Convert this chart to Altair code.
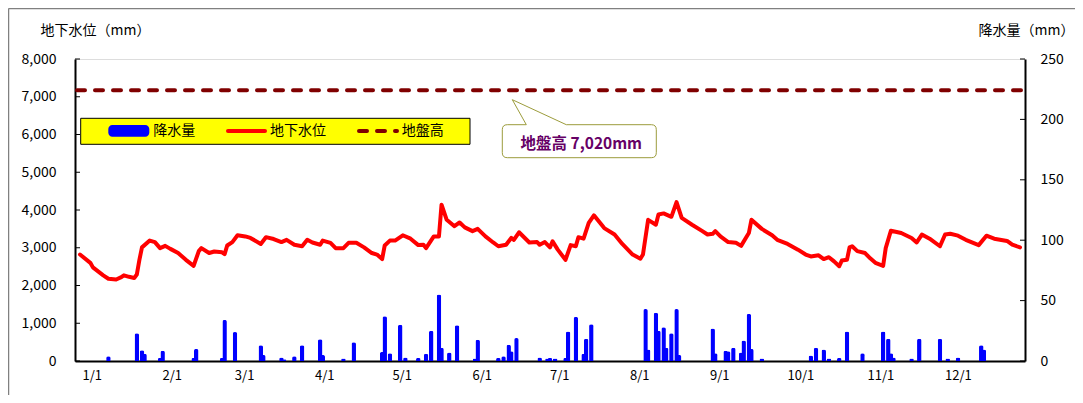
import altair as alt
import pandas as pd

FONT = "Noto Sans CJK JP"

# ---- data (day 0 = 1/1) ----
gw_day = [0, 4, 5, 9, 11, 14, 16, 17, 19, 21, 22, 23, 24, 27, 29, 31, 33, 35, 38, 41,
          44, 46, 47, 50, 52, 55, 56, 57, 59, 61, 64, 66, 70, 72, 75, 78, 80, 83, 86, 88,
          90, 93, 94, 97, 99, 102, 104, 107, 110, 113, 115, 117, 118, 120, 122, 125, 128, 131, 133, 134,
          137, 139, 140, 142, 145, 147, 149, 152, 154, 157, 160, 162, 165, 167, 168, 170, 174, 177, 178, 180,
          182, 183, 185, 188, 190, 192, 193, 195, 197, 199, 203, 207, 210, 214, 217, 218, 220, 223, 224, 226,
          229, 231, 233, 237, 241, 243, 245, 246, 248, 251, 254, 256, 258, 259, 260, 264, 268, 270, 274, 278,
          281, 283, 286, 288, 290, 292, 294, 295, 297, 298, 299, 301, 304, 306, 308, 311, 312, 314, 318, 322,
          324, 326, 329, 333, 335, 337, 340, 343, 348, 351, 354, 359, 361, 364]
gw_level = [2820, 2600, 2480, 2270, 2180, 2160, 2220, 2270, 2230, 2200, 2290, 2680, 3010, 3190, 3150, 2990, 3050, 2970, 2860, 2680,
            2520, 2910, 2990, 2860, 2900, 2880, 2830, 3060, 3150, 3330, 3300, 3260, 3100, 3280, 3230, 3150, 3210, 3080, 3040, 3210,
            3140, 3080, 3190, 3130, 2990, 2990, 3130, 3130, 3010, 2860, 2820, 2700, 3060, 3190, 3190, 3330, 3240, 3070, 3080, 2990,
            3300, 3300, 4140, 3740, 3570, 3670, 3540, 3440, 3500, 3300, 3140, 3040, 3080, 3260, 3210, 3410, 3140, 3150, 3080, 3150,
            3010, 3170, 2950, 2680, 3070, 3040, 3280, 3240, 3660, 3860, 3520, 3350, 3100, 2820, 2710, 2820, 3740, 3610, 3880, 3910,
            3820, 4210, 3790, 3610, 3440, 3350, 3370, 3440, 3300, 3150, 3130, 3050, 3280, 3390, 3740, 3500, 3330, 3210, 3100, 2950,
            2820, 2770, 2800, 2700, 2750, 2640, 2510, 2660, 2680, 3010, 3040, 2910, 2860, 2720, 2600, 2520, 2990, 3450, 3390, 3260,
            3140, 3350, 3240, 3040, 3350, 3370, 3320, 3210, 3070, 3320, 3240, 3180, 3080, 3010]

rain_day = [11, 22, 24, 25, 31, 32, 44, 45, 55, 56, 60, 70, 71, 78, 79, 83, 86, 93, 94, 102,
            106, 117, 118, 120, 124, 126, 131, 134, 136, 139, 140, 143, 146, 153, 154, 162, 164, 166, 167, 169,
            178, 181, 182, 184, 188, 189, 192, 195, 196, 198, 219, 220, 223, 224, 226, 227, 229, 231, 232, 245,
            246, 250, 251, 253, 256, 257, 259, 260, 264, 283, 285, 288, 290, 294, 297, 303, 311, 313, 314, 315,
            322, 325, 333, 336, 340, 349, 350]
rain_mm = [4, 23, 9, 6, 2.5, 8.5, 2.5, 10, 2.5, 34, 24, 13, 5, 3, 1.5, 4, 13, 18, 5, 2,
           15.5, 7.5, 37, 6.5, 30, 3, 2.5, 6, 25, 55, 11, 7, 29.5, 2, 17.5, 2.5, 4, 13.5, 8, 19,
           3, 2, 2.5, 2, 2.5, 24.5, 36.5, 6, 18.5, 30.5, 43, 9.5, 40, 25, 28, 11, 23, 43, 5, 27,
           6.5, 8.5, 8, 11, 7, 17, 39, 10, 2, 4.5, 11, 9.5, 2, 2.5, 24.5, 6.5, 24.5, 18.5, 6.5, 3,
           2, 18.5, 18.5, 2, 3, 13, 9.5]

ground_level = 7170

month_start_day = [0, 31, 59, 90, 120, 151, 181, 212, 243, 273, 304, 334]
month_label = ["1/1", "2/1", "3/1", "4/1", "5/1", "6/1", "7/1", "8/1", "9/1", "10/1", "11/1", "12/1"]
left_ticks = [0, 1000, 2000, 3000, 4000, 5000, 6000, 7000, 8000]
right_ticks = [0, 50, 100, 150, 200, 250]
legend_names = ["降水量", "地下水位", "地盤高"]
callout_text = "地盤高 7,020mm"
left_title = "地下水位（mm）"
right_title = "降水量（mm）"

gw_df = pd.DataFrame({"day": gw_day, "level": gw_level})
rain_df = pd.DataFrame({"day": rain_day, "mm": rain_mm})
one = pd.DataFrame({"a": [0]})

W, H = 950, 302
LSCALE = alt.Scale(domain=[0, 8000], nice=False, zero=True)
RSCALE = alt.Scale(domain=[0, 250], nice=False, zero=True)

label_expr = "[" + ",".join("'%s'" % s for s in month_label) + "][indexof([" + \
    ",".join(str(d) for d in month_start_day) + "], datum.value)]"

x_enc = alt.X("day:Q", scale=alt.Scale(domain=[0, 364], nice=False, zero=False),
              axis=alt.Axis(values=month_start_day, labelExpr=label_expr, ticks=False, grid=False,
                            labelAlign="left", labelOffset=2, labelFlush=False, labelOverlap=False,
                            labelPadding=8, labelFontSize=13, domainColor="black", domainWidth=2,
                            title=None))

bars = alt.Chart(rain_df).mark_bar(color="#0000FF", size=4.5, cornerRadiusTopLeft=2,
                                    cornerRadiusTopRight=2).encode(
    x=x_enc,
    y=alt.Y("mm:Q", scale=RSCALE,
            axis=alt.Axis(orient="right", values=right_ticks, format="d", ticks=False, grid=False,
                          labelPadding=15, labelFontSize=14, domainColor="black", domainWidth=2,
                          title=right_title, titleAngle=0, titleX=49, titleY=-29,
                          titleAlign="right", titleBaseline="middle", titleFontSize=14,
                          titleFontWeight="normal")))

line = alt.Chart(gw_df).mark_line(color="#FF0000", strokeWidth=4, strokeJoin="round",
                                   strokeCap="round").encode(
    x=x_enc,
    y=alt.Y("level:Q", scale=LSCALE,
            axis=alt.Axis(orient="left", values=left_ticks, format=",d", ticks=False, grid=False,
                          labelPadding=19, labelFontSize=14, domainColor="black", domainWidth=2,
                          title=left_title, titleAngle=0, titleX=-35, titleY=-29,
                          titleAlign="left", titleBaseline="middle", titleFontSize=14,
                          titleFontWeight="normal")))

ground = alt.Chart(pd.DataFrame({"level": [ground_level]})).mark_rule(
    color="#800000", strokeWidth=4, strokeDash=[8, 10], strokeCap="round").encode(
    y=alt.Y("level:Q", scale=LSCALE, axis=None), x=alt.value(2), x2=alt.value(W))

lticks = alt.Chart(pd.DataFrame({"level": left_ticks})).mark_rule(color="black", strokeWidth=1).encode(
    y=alt.Y("level:Q", scale=LSCALE, axis=None), x=alt.value(0), x2=alt.value(5))
rticks = alt.Chart(pd.DataFrame({"mm": right_ticks})).mark_rule(color="black", strokeWidth=1).encode(
    y=alt.Y("mm:Q", scale=RSCALE, axis=None), x=alt.value(W - 5), x2=alt.value(W))

# legend (drawn manually)
leg_box = alt.Chart(one).mark_rect(fill="#FFFF00", stroke="black", strokeWidth=1).encode(
    x=alt.value(5.7), x2=alt.value(395), y=alt.value(59.3), y2=alt.value(85.3))
leg_bar = alt.Chart(one).mark_rect(fill="#0000FF", cornerRadius=4).encode(
    x=alt.value(33.3), x2=alt.value(74.3), y=alt.value(66), y2=alt.value(77.7))
leg_line = alt.Chart(one).mark_rule(color="#FF0000", strokeWidth=4, strokeCap="round").encode(
    x=alt.value(153), x2=alt.value(190), y=alt.value(72))
leg_dash = alt.Chart(one).mark_rule(color="#800000", strokeWidth=4, strokeCap="round",
                                     strokeDash=[8, 10]).encode(
    x=alt.value(284), x2=alt.value(322), y=alt.value(72))
leg_texts = [
    alt.Chart(one).mark_text(text=legend_names[i], align="left", baseline="middle",
                             fontSize=14, color="black").encode(x=alt.value(px), y=alt.value(72))
    for i, px in enumerate([78.3, 195, 326.7])
]

# callout
callout_path = ("M0,0 L54,25 L139,25 Q144,25 144,30 L144,53 Q144,58 139,58 L-5,58 "
                "Q-10,58 -10,53 L-10,30 Q-10,25 -5,25 L14,25 Z")
callout = alt.Chart(one).mark_point(shape=callout_path, size=4, filled=True, fill="white",
                                     stroke="#9C9C3C", strokeWidth=1, opacity=1).encode(
    x=alt.value(437.3), y=alt.value(40.7))
callout_t = alt.Chart(one).mark_text(text=callout_text, align="center", baseline="middle",
                                      fontSize=15.5, fontWeight="bold", color="#660066").encode(
    x=alt.value(506.3), y=alt.value(85))

# outer chart frame (left and top edges)
frame_l = alt.Chart(one).mark_rule(color="#808080", strokeWidth=1.5).encode(
    x=alt.value(-66.5), y=alt.value(-50.5), y2=alt.value(340))
frame_t = alt.Chart(one).mark_rule(color="#808080", strokeWidth=1.5).encode(
    x=alt.value(-66.5), x2=alt.value(1010), y=alt.value(-50.5))

chart = alt.layer(
    bars, line, ground, lticks, rticks,
    leg_box, leg_bar, leg_line, leg_dash, *leg_texts,
    callout, callout_t, frame_l, frame_t
).resolve_scale(y="independent").properties(
    width=W, height=H, autosize="none",
    padding={"left": 67, "top": 51, "right": 50, "bottom": 34}
).configure_view(fill="#CCFFFF", stroke="black", strokeWidth=2).configure(
    font=FONT
).configure_axis(labelFont=FONT, titleFont=FONT, labelColor="black", titleColor="black")

chart.save("out.html", embed_options={"renderer": "svg", "actions": False})
